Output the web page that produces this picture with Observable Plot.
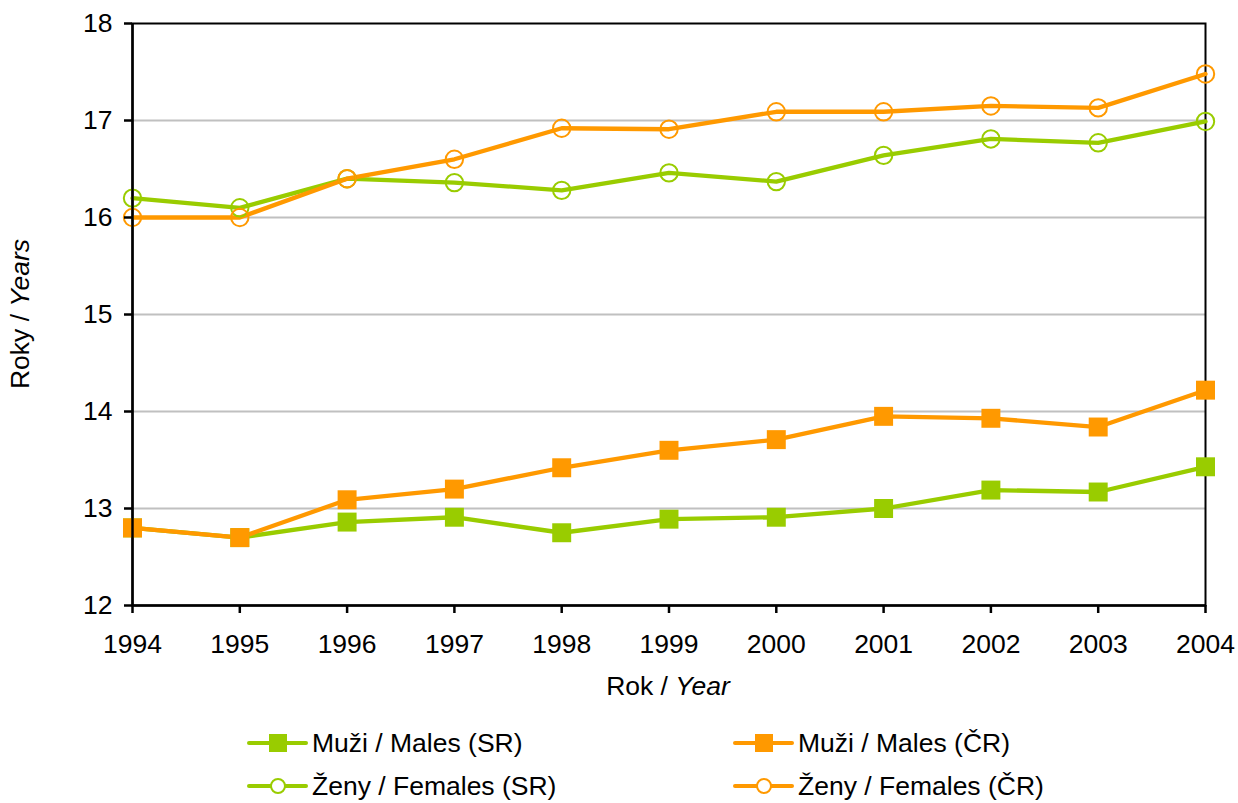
<!DOCTYPE html>
<html>
<head>
<meta charset="utf-8">
<script src="https://cdn.jsdelivr.net/npm/d3@7"></script>
<script src="https://cdn.jsdelivr.net/npm/@observablehq/plot@0.6"></script>
<style>
  body { margin: 0; background: #fff; font-family: "Liberation Sans", Arial, sans-serif; }
  #wrap { position: relative; width: 1238px; height: 803px; }
  .leg { position: absolute; display: flex; align-items: center; font-size: 26.5px; color: #000; white-space: nowrap; }
  .leg svg { display: block; margin-right: 4px; }
</style>
</head>
<body>
<div id="wrap"></div>
<script>
const years = [1994, 1995, 1996, 1997, 1998, 1999, 2000, 2001, 2002, 2003, 2004];
const malesSR   = [12.8, 12.7, 12.86, 12.91, 12.75, 12.89, 12.91, 13.0, 13.19, 13.17, 13.43];
const malesCR   = [12.8, 12.7, 13.09, 13.2, 13.42, 13.6, 13.71, 13.95, 13.93, 13.84, 14.22];
const femalesSR = [16.2, 16.1, 16.4, 16.36, 16.28, 16.46, 16.37, 16.64, 16.81, 16.77, 16.99];
const femalesCR = [16.0, 16.0, 16.4, 16.6, 16.92, 16.91, 17.09, 17.09, 17.15, 17.13, 17.48];
const yTicks = [12, 13, 14, 15, 16, 17, 18];
const gridTicks = [13, 14, 15, 16, 17];

const series = [
  {name: "Muži / Males (SR)", values: malesSR, color: "#99cc00", marker: "square"},
  {name: "Ženy / Females (SR)", values: femalesSR, color: "#99cc00", marker: "circle"},
  {name: "Muži / Males (ČR)", values: malesCR, color: "#ff9900", marker: "square"},
  {name: "Ženy / Females (ČR)", values: femalesCR, color: "#ff9900", marker: "circle"}
];

const FS = 26.5;
const W = 1238, H = 715;
const marks = [
  Plot.ruleY(gridTicks, {stroke: "#c0c0c0", strokeWidth: 2}),
  Plot.frame({stroke: "#000", strokeWidth: 2}),
];
for (const s of series) {
  const rows = years.map((yr, i) => ({year: yr, value: s.values[i]}));
  marks.push(Plot.line(rows, {x: "year", y: "value", stroke: s.color, strokeWidth: 4.3}));
}
for (const s of series) {
  const rows = years.map((yr, i) => ({year: yr, value: s.values[i]}));
  if (s.marker === "square") {
    marks.push(Plot.dot(rows, {x: "year", y: "value", symbol: "square", r: 10.7, fill: s.color, stroke: "none"}));
  } else {
    marks.push(Plot.dot(rows, {x: "year", y: "value", symbol: "circle", r: 8.7, fill: "none", stroke: s.color, strokeWidth: 2}));
  }
}
marks.push(
  Plot.axisY(yTicks, {tickSize: 8, tickPadding: 12, strokeWidth: 2.5, fontSize: FS, label: null, tickFormat: d => String(d)}),
  Plot.axisX(years, {tickSize: 8, tickPadding: 21, strokeWidth: 2.5, fontSize: FS, label: null, tickFormat: d => String(d)}),
  Plot.ruleX([1994], {stroke: "#000", strokeWidth: 2.5}),
  Plot.ruleY([12], {stroke: "#000", strokeWidth: 2.5})
);

const chart = Plot.plot({
  width: W,
  height: H,
  marginLeft: 132,
  marginRight: 33,
  marginTop: 23,
  marginBottom: H - 605,
  style: {fontFamily: "'Liberation Sans', Arial, sans-serif", fontSize: FS + "px", color: "#000", background: "#fff", overflow: "visible"},
  x: {domain: [1994, 2004]},
  y: {domain: [12, 18]},
  marks
});

const svg = d3.select(chart);
// x-axis title
const xt = svg.append("text")
  .attr("x", 668).attr("y", 688)
  .attr("text-anchor", "middle").attr("dominant-baseline", "middle")
  .attr("font-size", FS).attr("fill", "#000");
xt.append("tspan").text("Rok / ");
xt.append("tspan").attr("font-style", "italic").text("Year");
// y-axis title
const yt = svg.append("text")
  .attr("transform", "translate(22,314) rotate(-90)")
  .attr("text-anchor", "middle").attr("dominant-baseline", "middle")
  .attr("font-size", FS).attr("fill", "#000");
yt.append("tspan").text("Roky / ");
yt.append("tspan").attr("font-style", "italic").text("Years");

const wrap = document.getElementById("wrap");
chart.style.position = "absolute";
chart.style.left = "0px";
chart.style.top = "0px";
wrap.appendChild(chart);

// Legend
const legendPos = [
  {x: 247, y: 743}, {x: 247, y: 786}, {x: 733, y: 743}, {x: 733, y: 786}
];
series.forEach((s, i) => {
  const p = legendPos[i];
  const div = document.createElement("div");
  div.className = "leg";
  div.style.left = p.x + "px";
  div.style.top = (p.y - 16) + "px";
  div.style.height = "32px";
  const sw = d3.create("svg").attr("width", 61).attr("height", 32);
  sw.append("line").attr("x1", 2).attr("x2", 59).attr("y1", 16).attr("y2", 16)
    .attr("stroke", s.color).attr("stroke-width", 4).attr("stroke-linecap", "round");
  if (s.marker === "square") {
    sw.append("rect").attr("x", 31 - 9).attr("y", 16 - 9).attr("width", 18).attr("height", 18).attr("fill", s.color);
  } else {
    sw.append("circle").attr("cx", 31).attr("cy", 16).attr("r", 7).attr("fill", "#fff")
      .attr("stroke", s.color).attr("stroke-width", 2);
  }
  div.appendChild(sw.node());
  const sp = document.createElement("span");
  sp.textContent = s.name;
  div.appendChild(sp);
  wrap.appendChild(div);
});
</script>
</body>
</html>
